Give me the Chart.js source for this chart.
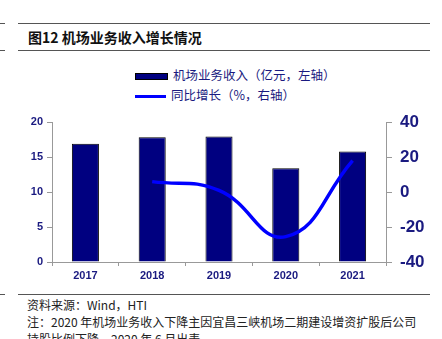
<!DOCTYPE html>
<html><head><meta charset="utf-8">
<script src="https://cdn.jsdelivr.net/npm/chart.js@4"></script>
<style>
body{margin:0;width:442px;height:339px;overflow:hidden;background:#fff;position:relative;font-family:"Noto Sans CJK SC",sans-serif;}
.hl{position:absolute;height:1px;background:#555;}
#title{position:absolute;left:28px;top:27px;font-size:14px;font-weight:bold;color:#111;white-space:nowrap;}
.lg{position:absolute;left:135px;font-size:12.5px;color:#1a1a80;white-space:nowrap;}
.sw{display:inline-block;width:31px;vertical-align:middle;margin-right:5px;}
.foot{position:absolute;left:27px;font-size:12px;color:#222;white-space:nowrap;}
#wrap{position:absolute;left:0;top:104px;width:442px;height:188px;}
</style></head><body>
<div class="hl" style="left:0;top:23px;width:5px"></div>
<div class="hl" style="left:18px;top:23px;width:412px"></div>
<div id="title">图12 机场业务收入增长情况</div>
<div class="hl" style="left:0;top:50px;width:5px"></div>
<div class="hl" style="left:18px;top:50px;width:412px"></div>
<div class="lg" style="top:65px"><span class="sw" style="height:5px;background:#000080;border:1px solid #000"></span>机场业务收入（亿元，左轴）</div>
<div class="lg" style="top:85px"><span class="sw" style="height:3.5px;background:#0000ff"></span>同比增长（%，右轴）</div>
<div id="wrap"><canvas id="c"></canvas></div>
<div class="hl" style="left:0;top:294px;width:5px"></div>
<div class="hl" style="left:18px;top:294px;width:412px"></div>
<div class="foot" style="top:296px">资料来源：Wind，HTI</div>
<div class="foot" style="top:313px">注：2020 年机场业务收入下降主因宜昌三峡机场二期建设增资扩股后公司</div>
<div class="foot" style="top:330px">持股比例下降，2020 年 6 月出表</div>
<script>
const categories = ["2017","2018","2019","2020","2021"];
const revenue = [16.9, 17.85, 17.95, 13.4, 15.8];
const growth = [null, 6, 1, -25.5, 18];
const leftTicks = [0,5,10,15,20];
const rightTicks = [-40,-20,0,20,40];

const navyText = '#1a1a80';
new Chart(document.getElementById('c'), {
  data: {
    labels: categories,
    datasets: [
      {type:'line', label:'同比增长（%，右轴）', data: growth, yAxisID:'y1', borderColor:'#0000ff', borderWidth:3.5, pointRadius:0, tension:0.45, fill:false, spanGaps:true, order:0},
      {type:'bar', label:'机场业务收入（亿元，左轴）', data: revenue, yAxisID:'y', backgroundColor:'#000080', borderColor:'#000', borderWidth:1, barPercentage:0.405, categoryPercentage:1, order:1}
    ]
  },
  options: {
    responsive:true, maintainAspectRatio:false, animation:false,
    layout:{padding:{top:11,bottom:0,left:0,right:0}},
    plugins:{legend:{display:false}, tooltip:{enabled:false}},
    scales:{
      x:{
        grid:{display:true, drawOnChartArea:false, offset:true, color:'#999', tickLength:4},
        border:{color:'#999'},
        ticks:{color:navyText, font:{family:'Liberation Sans', size:11, weight:'bold'}, padding:3},
        afterFit(s){ s.height = 30; }
      },
      y:{
        position:'left', min:0, max:20,
        afterBuildTicks(s){ s.ticks = leftTicks.map(v=>({value:v})); },
        grid:{display:true, drawOnChartArea:false, color:'#999', tickLength:5},
        border:{color:'#999'},
        ticks:{color:navyText, font:{family:'Liberation Sans', size:11, weight:'bold'}, padding:4},
        afterFit(s){ s.width = 52; }
      },
      y1:{
        position:'right', min:-40, max:40,
        afterBuildTicks(s){ s.ticks = rightTicks.map(v=>({value:v})); },
        grid:{display:true, drawOnChartArea:false, color:'#999', tickLength:6},
        border:{color:'#999'},
        ticks:{color:navyText, font:{family:'Liberation Sans', size:17, weight:'bold'}, padding:8},
        afterFit(s){ s.width = 56; }
      }
    }
  }
});
</script>
</body></html>
